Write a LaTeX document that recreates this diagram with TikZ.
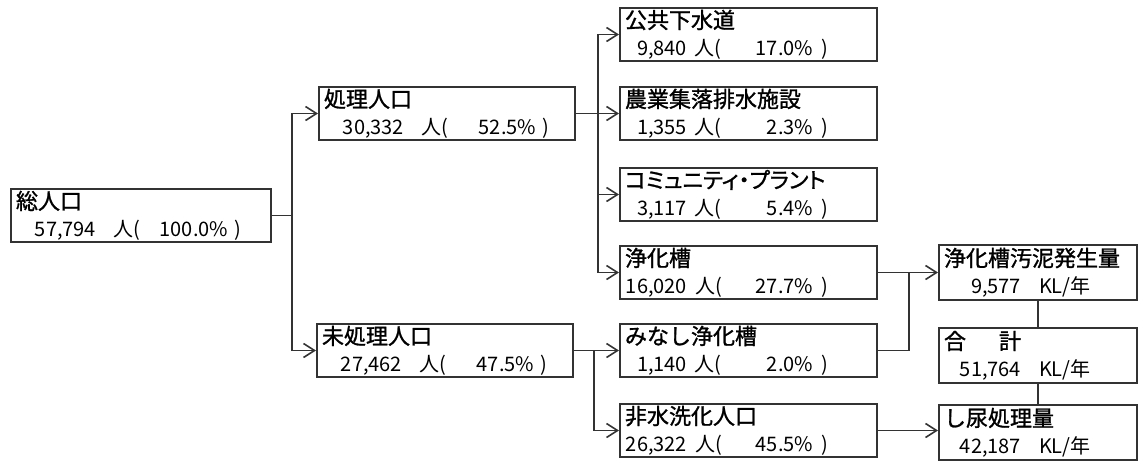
\documentclass[tikz,border=0pt]{standalone}
\usepackage{fontspec}
\setmainfont{Noto Sans CJK JP}
\newfontfamily\jptitle[FakeBold=1.2]{Noto Sans CJK JP}
\newfontfamily\jpprop[FakeBold=1.2,RawFeature=+palt]{Noto Sans CJK JP}
\usetikzlibrary{arrows.meta}
\definecolor{linecol}{HTML}{333333}

\newcommand{\midashi}[1]{{\jptitle\fontsize{11}{13.5}\selectfont #1}}
\newcommand{\ninA}[2]{\makebox[40pt][r]{#1}\hspace{9pt}人(\makebox[43.7pt][r]{#2}\hspace{3pt})}
\newcommand{\ninB}[2]{\makebox[31pt][r]{#1}\hspace{4pt}人(\makebox[45.7pt][r]{#2}\hspace{4pt})}
\newcommand{\kl}[1]{\makebox[38.5pt][r]{#1}\hspace{9pt}KL/年}

\begin{document}
\begin{tikzpicture}[x=0.5pt, y=-0.5pt,
	box/.style = {draw=linecol, line width=1pt, anchor=north west, inner xsep=2.5pt, inner ysep=0.8pt, minimum height=26.5pt, align=left, font=\fontsize{10}{13.5}\selectfont},
	colL/.style = {box, text width=123pt},
	colM/.style = {box, text width=123.5pt},
	colR/.style = {box, text width=94pt, minimum height=27.5pt},
	line/.style = {draw=linecol, line width=0.8pt},
	arr/.style = {line, -{Straight Barb[length=5.5pt,width=7pt]}}]
	\useasboundingbox (0,0) rectangle (1140,461);

	\node[colL, text width=125pt] (sou) at (10,188) {\midashi{総人口}\\\ninA{57,794}{100.0\%}};
	\node[colL] (shori) at (318,86) {\midashi{処理人口}\\\ninA{30,332}{52.5\%}};
	\node[colL] (mishori) at (316,323) {\midashi{未処理人口}\\\ninA{27,462}{47.5\%}};

	\node[colM] (gesui) at (619,7) {\midashi{公共下水道}\\\ninB{9,840}{17.0\%}};
	\node[colM] (nogyo) at (619,86) {\midashi{農業集落排水施設}\\\ninB{1,355}{2.3\%}};
	\node[colM] (comm) at (619,167) {\midashi{\jpprop コミュニティ・プラント}\\\ninB{3,117}{5.4\%}};
	\node[colM] (jokaso) at (619,245) {\midashi{浄化槽}\\\ninB{16,020}{27.7\%}};
	\node[colM] (minashi) at (619,323) {\midashi{みなし浄化槽}\\\ninB{1,140}{2.0\%}};
	\node[colM] (hisui) at (619,403) {\midashi{非水洗化人口}\\\ninB{26,322}{45.5\%}};

	\node[colR] (odei) at (938,244) {\midashi{浄化槽汚泥発生量}\\\kl{9,577}};
	\node[colR] (gokei) at (938,327) {\midashi{合\hspace{1.5em}計}\\\kl{51,764}};
	\node[colR] (shinyo) at (938,404) {\midashi{し尿処理量}\\\kl{42,187}};

	\coordinate (j1) at ([xshift=10pt]sou.east);
	\coordinate (j2) at ([xshift=11pt]shori.east);
	\coordinate (j3) at ([xshift=10pt]mishori.east);
	\coordinate (j4) at ([xshift=15.5pt]jokaso.east);

	\draw[line] (sou.east) -- (j1);
	\draw[arr] (j1) |- (shori.west);
	\draw[arr] (j1) |- (mishori.west);

	\draw[arr] (shori.east) -- (nogyo.west);
	\draw[arr] (j2) |- (gesui.west);
	\draw[arr] (j2) |- (comm.west);
	\draw[arr] (j2) |- (jokaso.west);

	\draw[arr] (mishori.east) -- (minashi.west);
	\draw[arr] (j3) |- (hisui.west);

	\draw[arr] (jokaso.east) -- (odei.west);
	\draw[line] (minashi.east) -| (j4);
	\draw[arr] (hisui.east) -- (hisui.east -| shinyo.west);

	\draw[line] (odei) -- (gokei);
	\draw[line] (gokei) -- (shinyo);
\end{tikzpicture}
\end{document}
